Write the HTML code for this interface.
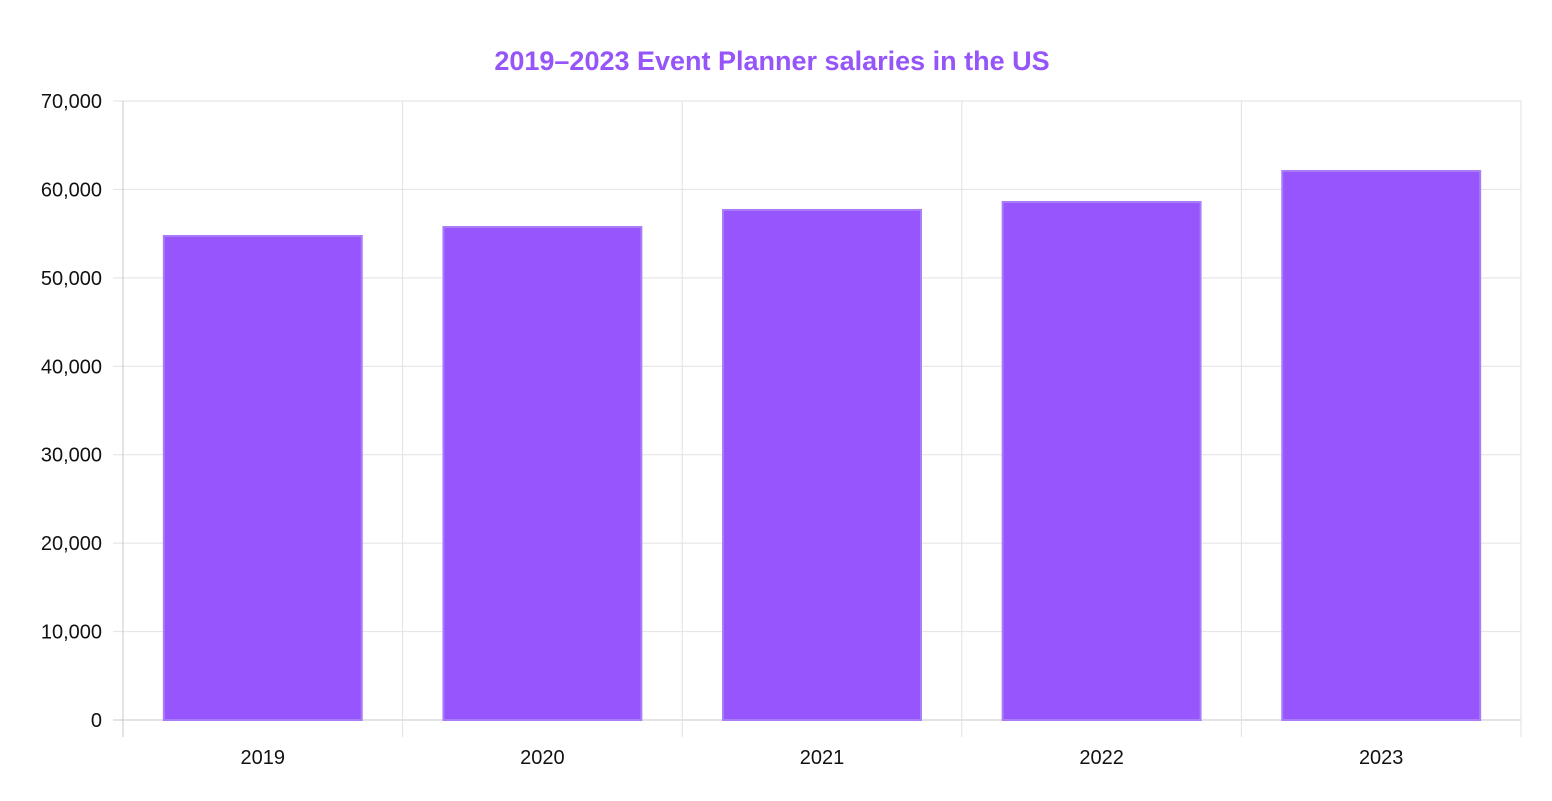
<!DOCTYPE html>
<html><head><meta charset="utf-8"><style>
body{margin:0;background:#fff;width:1552px;height:796px;overflow:hidden;font-family:"Liberation Sans",Arial,sans-serif}
svg text{font-family:"Liberation Sans",Arial,sans-serif}
</style></head><body>
<svg id="chart" width="1552" height="796" xmlns="http://www.w3.org/2000/svg">
<text x="772" y="70" text-anchor="middle" font-size="27" font-weight="bold" fill="#9655f9">2019–2023 Event Planner salaries in the US</text>
<g id="grid"></g><g id="bars"></g><g id="labels"></g>
</svg>
<script>
const categories=["2019","2020","2021","2022","2023"];
const salaries=[54850,55860,57790,58690,62200];
const yTicks=[0,10000,20000,30000,40000,50000,60000,70000];
const ns="http://www.w3.org/2000/svg";
const L=123,R=1521,T=101,B=720,yMax=70000;
const cw=(R-L)/categories.length;
const y=v=>B-(v/yMax)*(B-T);
const x=i=>L+i*cw;
function mk(tag,attrs,parent){const e=document.createElementNS(ns,tag);for(const k in attrs)e.setAttribute(k,attrs[k]);document.getElementById(parent).appendChild(e);return e;}
yTicks.forEach(t=>{
 const g=mk('line',{x1:L-10,x2:R,y1:y(t),y2:y(t),stroke:t===0?'#c8c8c8':'#e2e2e2','stroke-width':1},'grid');
 
 
 const tx=mk('text',{x:L-21,y:y(t)+7,'text-anchor':'end','font-size':20,fill:'#111'},'labels');
 tx.textContent=t.toLocaleString('en-US');
 
 
});
for(let i=0;i<=categories.length;i++){
 const l=mk('line',{x1:x(i),x2:x(i),y1:T,y2:B+17,stroke:i===0?'#c8c8c8':'#e2e2e2','stroke-width':1},'grid');
 
 
}
categories.forEach((c,i)=>{
 const bw=cw*0.715,bx=x(i)+(cw-bw)/2;
 const r=mk('rect',{x:bx+1,y:y(salaries[i])+1,width:bw-2,height:B-y(salaries[i])-1,fill:'#9655fd',stroke:'#a97cf8','stroke-width':2},'bars');
 
 
 const tx=mk('text',{x:x(i)+cw/2,y:764,'text-anchor':'middle','font-size':20,fill:'#111'},'labels');
 tx.textContent=c;
 
 
});
</script>
</body></html>
